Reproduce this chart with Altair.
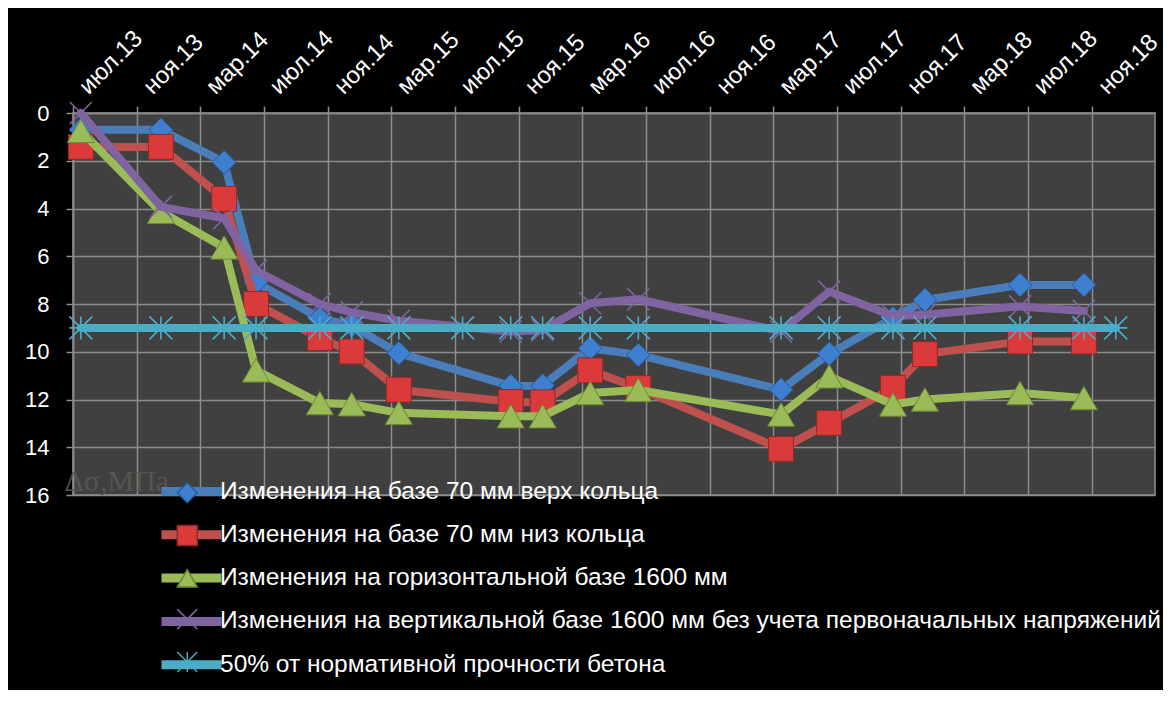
import altair as alt
import pandas as pd

# ---------------- data ----------------
dates = ["2013-07-16", "2013-12-16", "2014-04-16", "2014-06-16", "2014-10-16",
         "2014-12-16", "2015-03-16", "2015-07-16", "2015-10-16", "2015-12-16",
         "2016-03-16", "2016-06-16", "2017-03-16", "2017-06-16", "2017-10-16",
         "2017-12-16", "2018-06-16", "2018-10-16", "2018-12-16"]

top70 = [0.7, 0.7, 2.07, 7.1, 8.6, 8.9, 10.06, None, 11.43, 11.42,
         9.85, 10.13, 11.59, 10.08, 8.6, 7.83, 7.2, 7.2, None]
bottom70 = [1.42, 1.42, 3.6, 8.0, 9.43, 9.99, 11.59, None, 12.1, 12.12,
            10.78, 11.52, 14.07, 12.98, 11.52, 10.1, 9.57, 9.57, None]
horiz1600 = [0.75, 4.14, 5.63, 10.78, 12.15, 12.2, 12.56, None, 12.7, 12.7,
             11.73, 11.6, 12.63, 11.03, 12.21, 12.0, 11.73, 11.94, None]
vert1600 = [0.0, 3.93, 4.41, 6.6, 8.0, 8.35, 8.7, None, 9.15, 9.1,
            7.97, 7.8, 9.15, 7.48, 8.5, 8.45, 8.1, 8.29, None]
norm50 = [9, 9, 9, 9, 9, 9, 9, 9, 9, 9, 9, 9, 9, 9, 9, 9, 9, 9, 9]

names = ["Изменения на базе 70 мм верх кольца",
         "Изменения на базе 70 мм низ кольца",
         "Изменения на горизонтальной базе 1600 мм",
         "Изменения на вертикальной базе 1600 мм без учета первоначальных напряжений",
         "50% от нормативной прочности бетона"]
keys = ["s1", "s2", "s3", "s4", "s5"]

y_ticks = [0, 2, 4, 6, 8, 10, 12, 14, 16]
x_tick_months = [(2013, 7), (2013, 11), (2014, 3), (2014, 7), (2014, 11), (2015, 3),
                 (2015, 7), (2015, 11), (2016, 3), (2016, 7), (2016, 11), (2017, 3),
                 (2017, 7), (2017, 11), (2018, 3), (2018, 7), (2018, 11)]
month_names = ["янв", "фев", "мар", "апр", "май", "июн",
               "июл", "авг", "сен", "окт", "ноя", "дек"]

# ---------------- styles ----------------
line_colors = ["#4A7EBB", "#C0504D", "#9BBB59", "#8064A2", "#4BACC6"]
fill_colors = ["#3F7FD0", "#DA3A3A", "#9BBB59", "transparent", "transparent"]
edge_colors = ["#285A9A", "#8E2A2A", "#6A8A34", "#8064A2", "#4BACC6"]
x_path = "M-1,-1L1,1M-1,1L1,-1"
star_path = "M0,-1L0,1M-1,-1L1,1M-1,1L1,-1M-1,0L1,0"
shapes = ["diamond", "square", "triangle-up", x_path, star_path]
point_sizes = [560, 620, 729, 484, 529]
point_widths = [1, 1, 1, 1.6, 1.6]

rows = []
for key, name, vals in zip(keys, names, [top70, bottom70, horiz1600, vert1600, norm50]):
    for d, v in zip(dates, vals):
        if v is not None:
            rows.append({"date": d, "value": v, "series": name, "key": key})
df = pd.DataFrame(rows)

xscale = alt.Scale(type="utc",
                   domain=[alt.DateTime(year=2013, month=7, date=1, utc=True),
                           alt.DateTime(year=2019, month=3, date=1, utc=True)])
yscale = alt.Scale(domain=[0, 16], reverse=True, nice=False)

label_expr = ("[" + ",".join("'" + m + "'" for m in month_names) + "][utcmonth(datum.value)]"
              " + '.' + utcFormat(datum.value, '%y')")

xaxis = alt.Axis(orient="top",
                 values=[alt.DateTime(year=y, month=m, date=1, utc=True) for y, m in x_tick_months],
                 labelExpr=label_expr, labelAngle=315, labelAlign="left",
                 labelBaseline="middle", labelOffset=10, labelPadding=16,
                 labelFontSize=24, labelFlush=False, labelOverlap=False,
                 title=None, grid=True)
yaxis = alt.Axis(values=y_ticks, labelFlush=False, labelPadding=17, grid=True,
                 title="Δσ,МПа", titleAngle=0, titleX=-9, titleY=377,
                 titleAlign="left", titleBaseline="alphabetic", titleColor="#555555",
                 titleFont="Liberation Serif", titleFontSize=30, titleFontWeight="normal")

line_legend = alt.Legend(orient="none", legendX=102, legendY=362, title=None,
                         symbolType="M-2.5,0L2.5,0", symbolSize=576, symbolStrokeWidth=9,
                         rowPadding=6.3, labelOffset=12, labelFontSize=24.5,
                         labelFont="Liberation Sans", labelColor="white", labelLimit=1200,
                         padding=0, zindex=0)
marker_legend = alt.Legend(orient="none", legendX=102, legendY=367.5, title=None,
                           symbolSize=400, symbolStrokeWidth=1.5,
                           rowPadding=15.8, labelOffset=12, labelFontSize=24.5,
                           labelFont="Liberation Sans", labelColor="white", labelOpacity=0,
                           labelExpr="''", labelLimit=1200, padding=0, zindex=1)

base = alt.Chart(df).encode(
    x=alt.X("date:T", scale=xscale, axis=xaxis),
    y=alt.Y("value:Q", scale=yscale, axis=yaxis),
)

layers = []
for i, key in enumerate(keys):
    sub = base.transform_filter(alt.datum.key == key)
    layers.append(
        sub.mark_line(strokeWidth=8, strokeCap="round", strokeJoin="round").encode(
            color=alt.Color("series:N", scale=alt.Scale(domain=names, range=line_colors),
                            legend=line_legend)))
    layers.append(
        sub.mark_point(filled=True, opacity=1, size=point_sizes[i],
                       strokeWidth=point_widths[i]).encode(
            shape=alt.Shape("key:N", scale=alt.Scale(domain=keys, range=shapes),
                            legend=marker_legend),
            fill=alt.Fill("key:N", scale=alt.Scale(domain=keys, range=fill_colors)),
            stroke=alt.Stroke("key:N", scale=alt.Scale(domain=keys, range=edge_colors))))

chart = alt.layer(*layers).properties(
    width=1082, height=382, background="black",
    padding={"left": 65, "top": 105, "right": 8, "bottom": 195},
    autosize=alt.AutoSizeParams(type="none"),
).configure_view(
    fill="#404040", stroke="#8c8c8c", strokeWidth=1.5
).configure_axis(
    gridColor="#8c8c8c", gridWidth=1.5, domainColor="#8c8c8c", domainWidth=1.5,
    tickColor="#8c8c8c", tickWidth=1.5, tickSize=7,
    labelColor="white", labelFont="Liberation Sans", labelFontSize=22,
)

chart.save("out.html", embed_options={"renderer": "svg", "actions": False})
